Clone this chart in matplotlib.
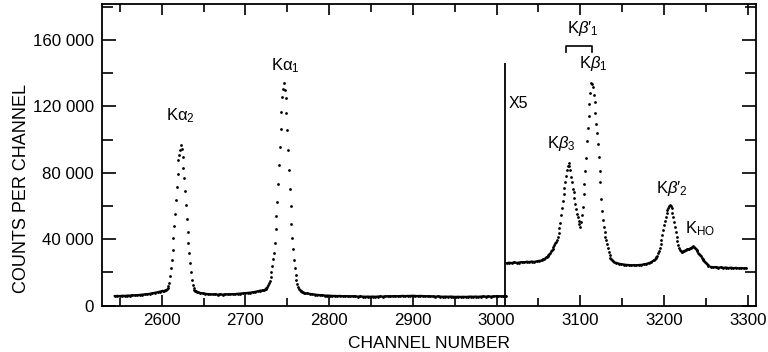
import numpy as np
import matplotlib
matplotlib.use("Agg")
import matplotlib.pyplot as plt
from matplotlib.ticker import MultipleLocator, FuncFormatter

plt.rcParams['font.family'] = ['Liberation Sans', 'DejaVu Sans']
plt.rcParams['mathtext.fontset'] = 'custom'
plt.rcParams['mathtext.rm'] = 'Liberation Sans'
plt.rcParams['mathtext.it'] = 'Liberation Sans:italic'

################################################
#       Spectrum           #
################################################
# left part, true scale
base_a_ch = np.arange(2544, 2604, 3)
base_a_counts = [5800, 5900, 5800, 6000, 5900, 6100, 6100, 6300, 6200, 6400,
                 6500, 6700, 6800, 7000, 7200, 7500, 7800, 8100, 8500, 8900]

ka2_ch = np.arange(2603, 2644)
ka2_counts = [9000, 9300, 9700, 10100, 10800, 11800, 13600, 17600, 22600, 27600,
              33600, 40500, 48100, 55500, 63500, 71500, 79500, 87500, 90500, 93500,
              96500, 94300, 89500, 83000, 77000, 69000, 60500, 52000, 44500, 37500,
              31500, 26000, 20500, 15500, 12500, 10500, 9600, 9000, 8600, 8300,
              8000]

base_b_ch = np.arange(2646, 2720, 3)
base_b_counts = [7700, 7400, 7200, 7000, 6900, 6800, 6900, 6700, 6800, 6700,
                 6900, 6800, 6900, 7000, 7000, 7200, 7300, 7400, 7600, 7700,
                 7900, 8100, 8400, 8700, 9100]

ka1_ch = np.arange(2720, 2772)
ka1_counts = [9300, 9500, 9700, 9900, 10300, 10800, 11500, 12300, 13500, 15000,
              17000, 20000, 24000, 28000, 32000, 38000, 46000, 54000, 62500, 73500,
              84500, 95500, 106500, 116500, 125500, 130500, 134000, 130000, 124800, 116000,
              106000, 94000, 82000, 70000, 60000, 49000, 41000, 34000, 27500, 22500,
              18500, 15500, 13000, 11500, 10300, 9500, 9000, 8600, 8300, 8000,
              7800, 7600]

base_c_ch = np.arange(2774, 3014, 3)
base_c_counts = [7400, 7100, 6900, 6700, 6500, 6400, 6300, 6100, 6100, 6000,
                 5900, 5900, 5800, 5900, 5700, 5800, 5700, 5600, 5700, 5600,
                 5500, 5600, 5500, 5400, 5500, 5400, 5500, 5400, 5500, 5600,
                 5500, 5600, 5700, 5600, 5700, 5800, 5700, 5800, 5900, 5800,
                 5900, 5900, 6000, 5900, 5800, 5900, 5800, 5700, 5700, 5600,
                 5600, 5500, 5600, 5500, 5400, 5500, 5400, 5500, 5400, 5300,
                 5400, 5300, 5400, 5300, 5400, 5500, 5400, 5500, 5400, 5500,
                 5600, 5500, 5600, 5500, 5600, 5700, 5600, 5700, 5600, 5700]

# right part, plotted x5
base_d_ch = np.arange(3012, 3054, 3)
base_d_x5 = [25600, 25900, 25700, 26100, 25800, 26000, 26300, 26100, 26500, 26300,
             26600, 26400, 26700, 27000]

kb13_ch = np.arange(3053, 3141)
kb13_x5 = [27300, 27600, 27900, 28100, 28300, 28700, 29100, 29500, 30100, 30600,
           31200, 32000, 32800, 33600, 34400, 35200, 36400, 37600, 38600, 39600,
           41600, 43600, 46600, 49600, 54600, 59000, 63000, 67500, 71000, 74500,
           78000, 81500, 84000, 85800, 84000, 81800, 77800, 74500, 70500, 68500,
           65000, 61500, 58500, 55500, 53700, 51000, 49000, 47600, 50500, 54500,
           59600, 67000, 73500, 81000, 89000, 99000, 107000, 114000, 121500, 128000,
           134300, 133500, 131900, 127000, 122500, 116000, 109500, 104000, 97500, 89500,
           81000, 74500, 64500, 57000, 51500, 47500, 44500, 41500, 39500, 37000,
           35000, 32500, 30500, 29000, 28300, 27800, 27100, 26500]

base_e_ch = np.arange(3143, 3189, 3)
base_e_x5 = [25800, 25300, 25000, 24800, 24600, 24500, 24300, 24400, 24300, 24500,
             24600, 24900, 25200, 25600, 26300, 27300]

kb2_ch = np.arange(3189, 3254)
kb2_x5 = [27900, 28500, 29100, 30200, 31500, 33000, 35000, 37200, 39600, 42500,
          45600, 48500, 51000, 53500, 55700, 57500, 59000, 60000, 60700, 60000,
          58600, 56000, 53600, 50500, 47600, 44500, 41500, 39000, 36500, 35000,
          33500, 33000, 32600, 32500, 32700, 33100, 33500, 33800, 34000, 34100,
          34300, 34400, 34600, 34900, 35200, 35600, 35900, 35400, 34800, 34200,
          33500, 32800, 32000, 31200, 30500, 29700, 29000, 28200, 27500, 26800,
          26200, 25600, 25000, 24400, 23900]

base_f_ch = np.arange(3256, 3300, 3)
base_f_x5 = [23400, 23100, 23300, 22900, 23100, 22800, 23000, 22700, 22900, 22600,
             22800, 22500, 22700, 22500, 22600]

x5_start = 3010.5
x5_top = 146000
bracket_ch = [3083, 3114]
bracket_y = [153000, 156500]

# peak labels: text, left channel, baseline counts
peak_labels = [r'$\mathrm{K\alpha_2}$', r'$\mathrm{K\alpha_1}$', r'$\mathrm{K}\beta_3$',
               r'$\mathrm{K}\beta_1$', r"$\mathrm{K}\beta\prime_1$",
               r"$\mathrm{K}\beta\prime_2$", r'$\mathrm{K_{HO}}$', 'X5']
label_ch = [2605, 2731, 3060, 3098, 3084, 3191, 3225, 3014]
label_y = [111900, 142000, 94800, 143000, 164100, 67900, 43800, 118900]

baselines = [(base_a_ch, base_a_counts), (base_b_ch, base_b_counts), (base_c_ch, base_c_counts),
             (base_d_ch, base_d_x5), (base_e_ch, base_e_x5), (base_f_ch, base_f_x5)]
peaks = [(ka2_ch, ka2_counts), (ka1_ch, ka1_counts), (kb13_ch, kb13_x5), (kb2_ch, kb2_x5)]

###################################
#       Plot                      #
###################################
fig = plt.figure(figsize=(7.68, 3.52), dpi=100)
ax = fig.add_axes([102 / 768, 46.3 / 352, 654 / 768, 301.7 / 352])

# flat stretches look like a thick noisy trace in the original
for ch, cnt in baselines:
    ax.plot(ch, cnt, '-', lw=1.6, color='black')
    ax.plot(ch, cnt, ls='none', marker='o', ms=2.0, mew=0, color='black')
for ch, cnt in peaks:
    ax.plot(ch, cnt, ls='none', marker='o', ms=2.0, mew=0, color='black')

ax.vlines(x5_start, 0, x5_top, color='black', lw=1.3)
ax.plot([bracket_ch[0], bracket_ch[0], bracket_ch[1], bracket_ch[1]],
        [bracket_y[0], bracket_y[1], bracket_y[1], bracket_y[0]], color='black', lw=1.2)

for txt, cx, cy in zip(peak_labels, label_ch, label_y):
    size = 11.5 if txt == 'X5' else 12
    ax.text(cx, cy, txt, ha='left', va='baseline', fontsize=size)

ax.set_xlim(2528.7, 3309.9)
ax.set_ylim(0, 181700)

ax.xaxis.set_major_locator(MultipleLocator(100))
ax.xaxis.set_minor_locator(MultipleLocator(50))
ax.yaxis.set_major_locator(MultipleLocator(40000))
ax.yaxis.set_minor_locator(MultipleLocator(20000))
ax.yaxis.set_major_formatter(FuncFormatter(lambda v, p: f'{v:,.0f}'.replace(',', ' ')))

ax.tick_params(which='both', direction='in', top=True, right=True, width=1.2, colors='black',
               labelsize=12.2)
ax.tick_params(axis='x', which='major', length=8, pad=5)
ax.tick_params(axis='x', which='minor', length=6)
ax.tick_params(axis='y', which='major', length=10, pad=6)
ax.tick_params(axis='y', which='minor', length=8)
for s in ax.spines.values():
    s.set_linewidth(1.3)

ax.set_xlabel('CHANNEL NUMBER', fontsize=12.5, labelpad=6)
ax.set_ylabel('COUNTS PER CHANNEL', fontsize=13)
ax.yaxis.set_label_coords(-0.11, 0.39)

fig.savefig('out.png', dpi=100)
